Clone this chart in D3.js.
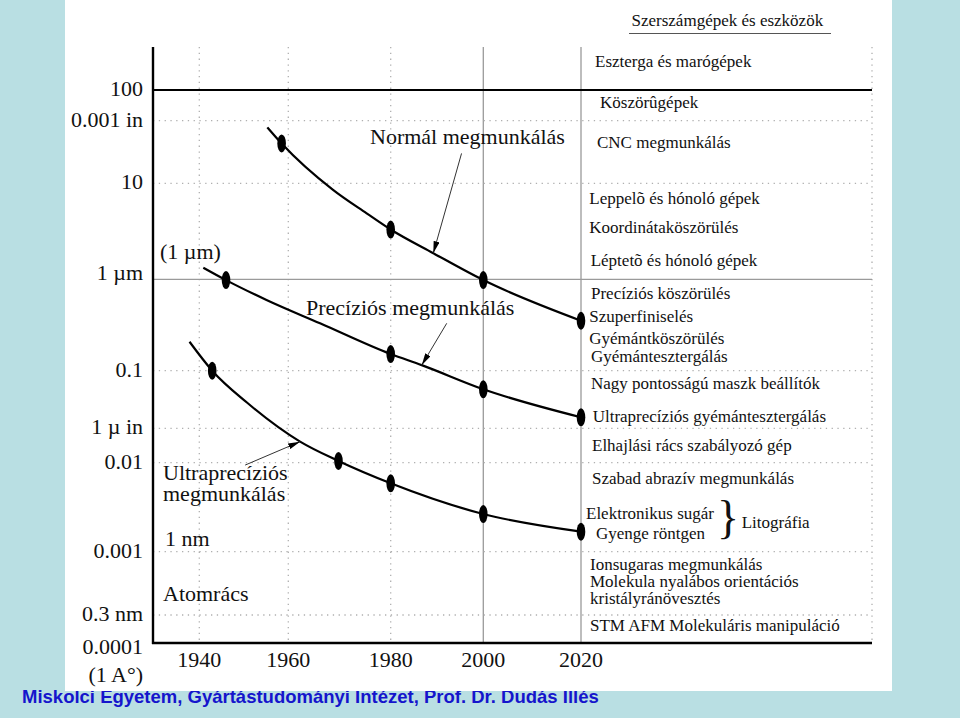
<!DOCTYPE html>
<html><head><meta charset="utf-8">
<script src="https://cdn.jsdelivr.net/npm/d3@7"></script>
<style>html,body{margin:0;padding:0;background:#b9dfe3;} svg{display:block}</style>
</head><body>
<svg id="c" width="960" height="718"></svg>
<script>
// ---------- data ----------
const yearTicks = [1940, 1960, 1980, 2000, 2020];
// accuracy levels in µm (values of the tick marks) and their labels
const levelTicks  = [0.0001, 0.0003, 0.001, 0.01, 0.0254, 0.1, 1, 10, 25.4, 100];
const levelLabels = ["0.0001", "0.3 nm", "0.001", "0.01", "1 µ in", "0.1", "1 µm", "10", "0.001 in", "100"];

// curves: [year, accuracy µm]
const normalLine = [[1955.3, 23.0], [1958.5, 18.1], [1968.8, 8.5], [1975.3, 4.87], [1980, 3.3], [1989.2, 1.87], [2000, 0.98], [2020, 0.352]];
const normalDots = [[1958.5, 18.1], [1980, 3.3], [2000, 0.98], [2020, 0.352]];

const precisionLine = [[1940.9, 1.32], [1946, 0.98], [1955.1, 0.594], [1966.2, 0.33], [1980, 0.152], [1986.7, 0.115], [2000, 0.0643], [2020, 0.033]];
const precisionDots = [[1946, 0.98], [1980, 0.152], [2000, 0.0643], [2020, 0.033]];

const ultraLine = [[1937.8, 0.2075], [1942.9, 0.1], [1950.7, 0.0469], [1962.3, 0.0177], [1969.8, 0.01047], [1980, 0.00587], [2000, 0.00265], [2020, 0.00168]];
const ultraDots = [[1942.9, 0.1], [1969.8, 0.01047], [1980, 0.00587], [2000, 0.00265], [2020, 0.00168]];

// annotation arrows: [tail, tip] in [year, µm]
const arrowNormal    = [[1995.3, 15.6], [1989.2, 1.87]];
const arrowPrecision = [[1992.1, 0.33], [1986.7, 0.115]];
const arrowUltra     = [[1950.3, 0.0094], [1962.3, 0.0177]];

const toolTitle = "Szerszámgépek és eszközök";
const toolLabels = [
  "Eszterga és marógépek", "Köszörûgépek", "CNC megmunkálás",
  "Leppelõ és hónoló gépek", "Koordinátaköszörülés", "Léptetõ és hónoló gépek",
  "Precíziós köszörülés", "Szuperfiniselés", "Gyémántköszörülés", "Gyémántesztergálás",
  "Nagy pontosságú maszk beállítók", "Ultraprecíziós gyémántesztergálás",
  "Elhajlási rács szabályozó gép", "Szabad abrazív megmunkálás",
  "Elektronikus sugár", "Gyenge röntgen", "Litográfia",
  "Ionsugaras megmunkálás", "Molekula nyalábos orientációs", "kristályránövesztés",
  "STM AFM Molekuláris manipuláció"
];
const footerText = "Miskolci Egyetem, Gyártástudományi Intézet, Prof. Dr. Dudás Illés";

// ---------- layout ----------
const svg = d3.select("#c");
const L = 153, R = 872, T = 47, B = 643;
const serif = "'Liberation Serif','Times New Roman',serif";

const x = d3.scaleLinear().domain(yearTicks).range([199.3, 288.3, 390.7, 483.3, 581]);
const y = d3.scaleLog().domain(levelTicks).range([643, 615, 551.7, 462.7, 428.3, 370.7, 279.3, 183.3, 120.7, 90]);

// background
svg.append("rect").attr("width", 960).attr("height", 718).attr("fill", "#b9dfe3");

// footer (partly hidden under the white panel)
const foot = svg.append("text").attr("x", 22).attr("y", 703)
  .attr("font-family", "'Liberation Sans',Arial,sans-serif").attr("font-weight", "bold")
  .attr("font-size", 18).attr("fill", "#1515cc").text(footerText);
const fl = foot.node().getComputedTextLength();
foot.attr("font-size", 18 * 577 / fl);

// white panel
svg.append("rect").attr("x", 65).attr("y", 0).attr("width", 827).attr("height", 691).attr("fill", "#fff");

const g = svg.append("g");

// vertical grid lines
g.selectAll("line.vg").data(yearTicks).join("line")
  .attr("x1", d => x(d)).attr("x2", d => x(d)).attr("y1", T).attr("y2", B)
  .attr("stroke", d => d >= 2000 ? "#9a9a9a" : "#b0b0b0")
  .attr("stroke-width", 1.3)
  .attr("stroke-dasharray", d => d >= 2000 ? null : "1.3,4.5");
// right dotted border
g.append("line").attr("x1", R).attr("x2", R).attr("y1", T).attr("y2", B)
  .attr("stroke", "#b0b0b0").attr("stroke-width", 1.3).attr("stroke-dasharray", "1.3,4.5");

// horizontal grid lines
g.selectAll("line.hg").data(levelTicks.filter(d => d !== 0.0001)).join("line")
  .attr("x1", L).attr("x2", R).attr("y1", d => y(d)).attr("y2", d => y(d))
  .attr("stroke", d => d === 100 ? "#000" : (d === 1 ? "#9a9a9a" : "#b0b0b0"))
  .attr("stroke-width", d => d === 100 ? 2.2 : 1.3)
  .attr("stroke-dasharray", d => (d === 100 || d === 1) ? null : "1.3,4.5");

// axes lines
g.append("line").attr("x1", L).attr("x2", L).attr("y1", T).attr("y2", B + 1).attr("stroke", "#000").attr("stroke-width", 2.4);
g.append("line").attr("x1", L - 1).attr("x2", R).attr("y1", B).attr("y2", B).attr("stroke", "#000").attr("stroke-width", 2.4);

// y labels
g.selectAll("text.yl").data(levelTicks).join("text")
  .attr("x", 143).attr("y", d => y(d)).attr("dy", d => d === 0.0001 ? "0.5em" : (d === 1 ? "0.05em" : "0.27em"))
  .attr("text-anchor", "end").attr("font-family", serif).attr("font-size", 22).attr("fill", "#111")
  .text((d, i) => levelLabels[i]);
g.append("text").attr("x", 143).attr("y", y(0.0001)).attr("dy", "1.75em")
  .attr("text-anchor", "end").attr("font-family", serif).attr("font-size", 22).attr("fill", "#111")
  .text("(1 A°)");

// x labels
g.selectAll("text.xl").data(yearTicks).join("text")
  .attr("x", d => x(d)).attr("y", 666.5).attr("text-anchor", "middle")
  .attr("font-family", serif).attr("font-size", 22).attr("fill", "#111").text(d => d);

// curves
const line = d3.line().x(d => x(d[0])).y(d => y(d[1])).curve(d3.curveMonotoneX);
[normalLine, precisionLine, ultraLine].forEach(s => {
  g.append("path").attr("d", line(s)).attr("fill", "none").attr("stroke", "#000").attr("stroke-width", 2.2);
});
[normalDots, precisionDots, ultraDots].forEach(s => {
  g.selectAll(null).data(s).join("ellipse")
    .attr("cx", d => x(d[0])).attr("cy", d => y(d[1])).attr("rx", 4.3).attr("ry", 9).attr("fill", "#000");
});

// arrows
svg.append("defs").append("marker").attr("id", "ah").attr("viewBox", "0 0 12 6")
  .attr("refX", 12).attr("refY", 3).attr("markerWidth", 12).attr("markerHeight", 6)
  .attr("markerUnits", "userSpaceOnUse").attr("orient", "auto")
  .append("path").attr("d", "M0,0 L12,3 L0,6 Z").attr("fill", "#000");
[arrowNormal, arrowPrecision, arrowUltra].forEach(a => {
  g.append("line").attr("x1", x(a[0][0])).attr("y1", y(a[0][1]))
    .attr("x2", x(a[1][0])).attr("y2", y(a[1][1]))
    .attr("stroke", "#333").attr("stroke-width", 1).attr("marker-end", "url(#ah)");
});

// left annotations
const big = (tx, ty, s) => g.append("text").attr("x", tx).attr("y", ty)
  .attr("font-family", serif).attr("font-size", 22).attr("fill", "#111").text(s);
big(370, 144, "Normál megmunkálás");
big(306, 314.5, "Precíziós megmunkálás");
big(160, 258.5, "(1 µm)");
big(163, 479.5, "Ultraprecíziós");
big(163, 501, "megmunkálás");
big(165, 545.5, "1 nm");
big(163, 600.5, "Atomrács");

// right column (tools)
const small = (tx, ty, s) => g.append("text").attr("x", tx).attr("y", ty)
  .attr("font-family", serif).attr("font-size", 17).attr("fill", "#111").text(s);
small(631.5, 26, toolTitle);
g.append("line").attr("x1", 629).attr("x2", 831).attr("y1", 33.5).attr("y2", 33.5).attr("stroke", "#555").attr("stroke-width", 1);
const pos = [[595, 67], [600, 108.3], [597, 148.3], [589.3, 204], [589.3, 233.3], [590.7, 266],
  [591, 299.3], [589.3, 321.7], [589.3, 344], [591, 362.3], [591, 389], [592.7, 421.7],
  [592, 450.7], [592, 483.5], [586, 519.3], [596, 539.3], [741.7, 527.7],
  [590, 570], [590, 587.3], [590, 604], [590, 630.7]];
toolLabels.forEach((s, i) => small(pos[i][0], pos[i][1], s));
// brace
g.append("text").attr("x", 717).attr("y", 533).attr("font-family", serif).attr("font-size", 46)
  .attr("fill", "#111").text("}");
</script>
</body></html>
